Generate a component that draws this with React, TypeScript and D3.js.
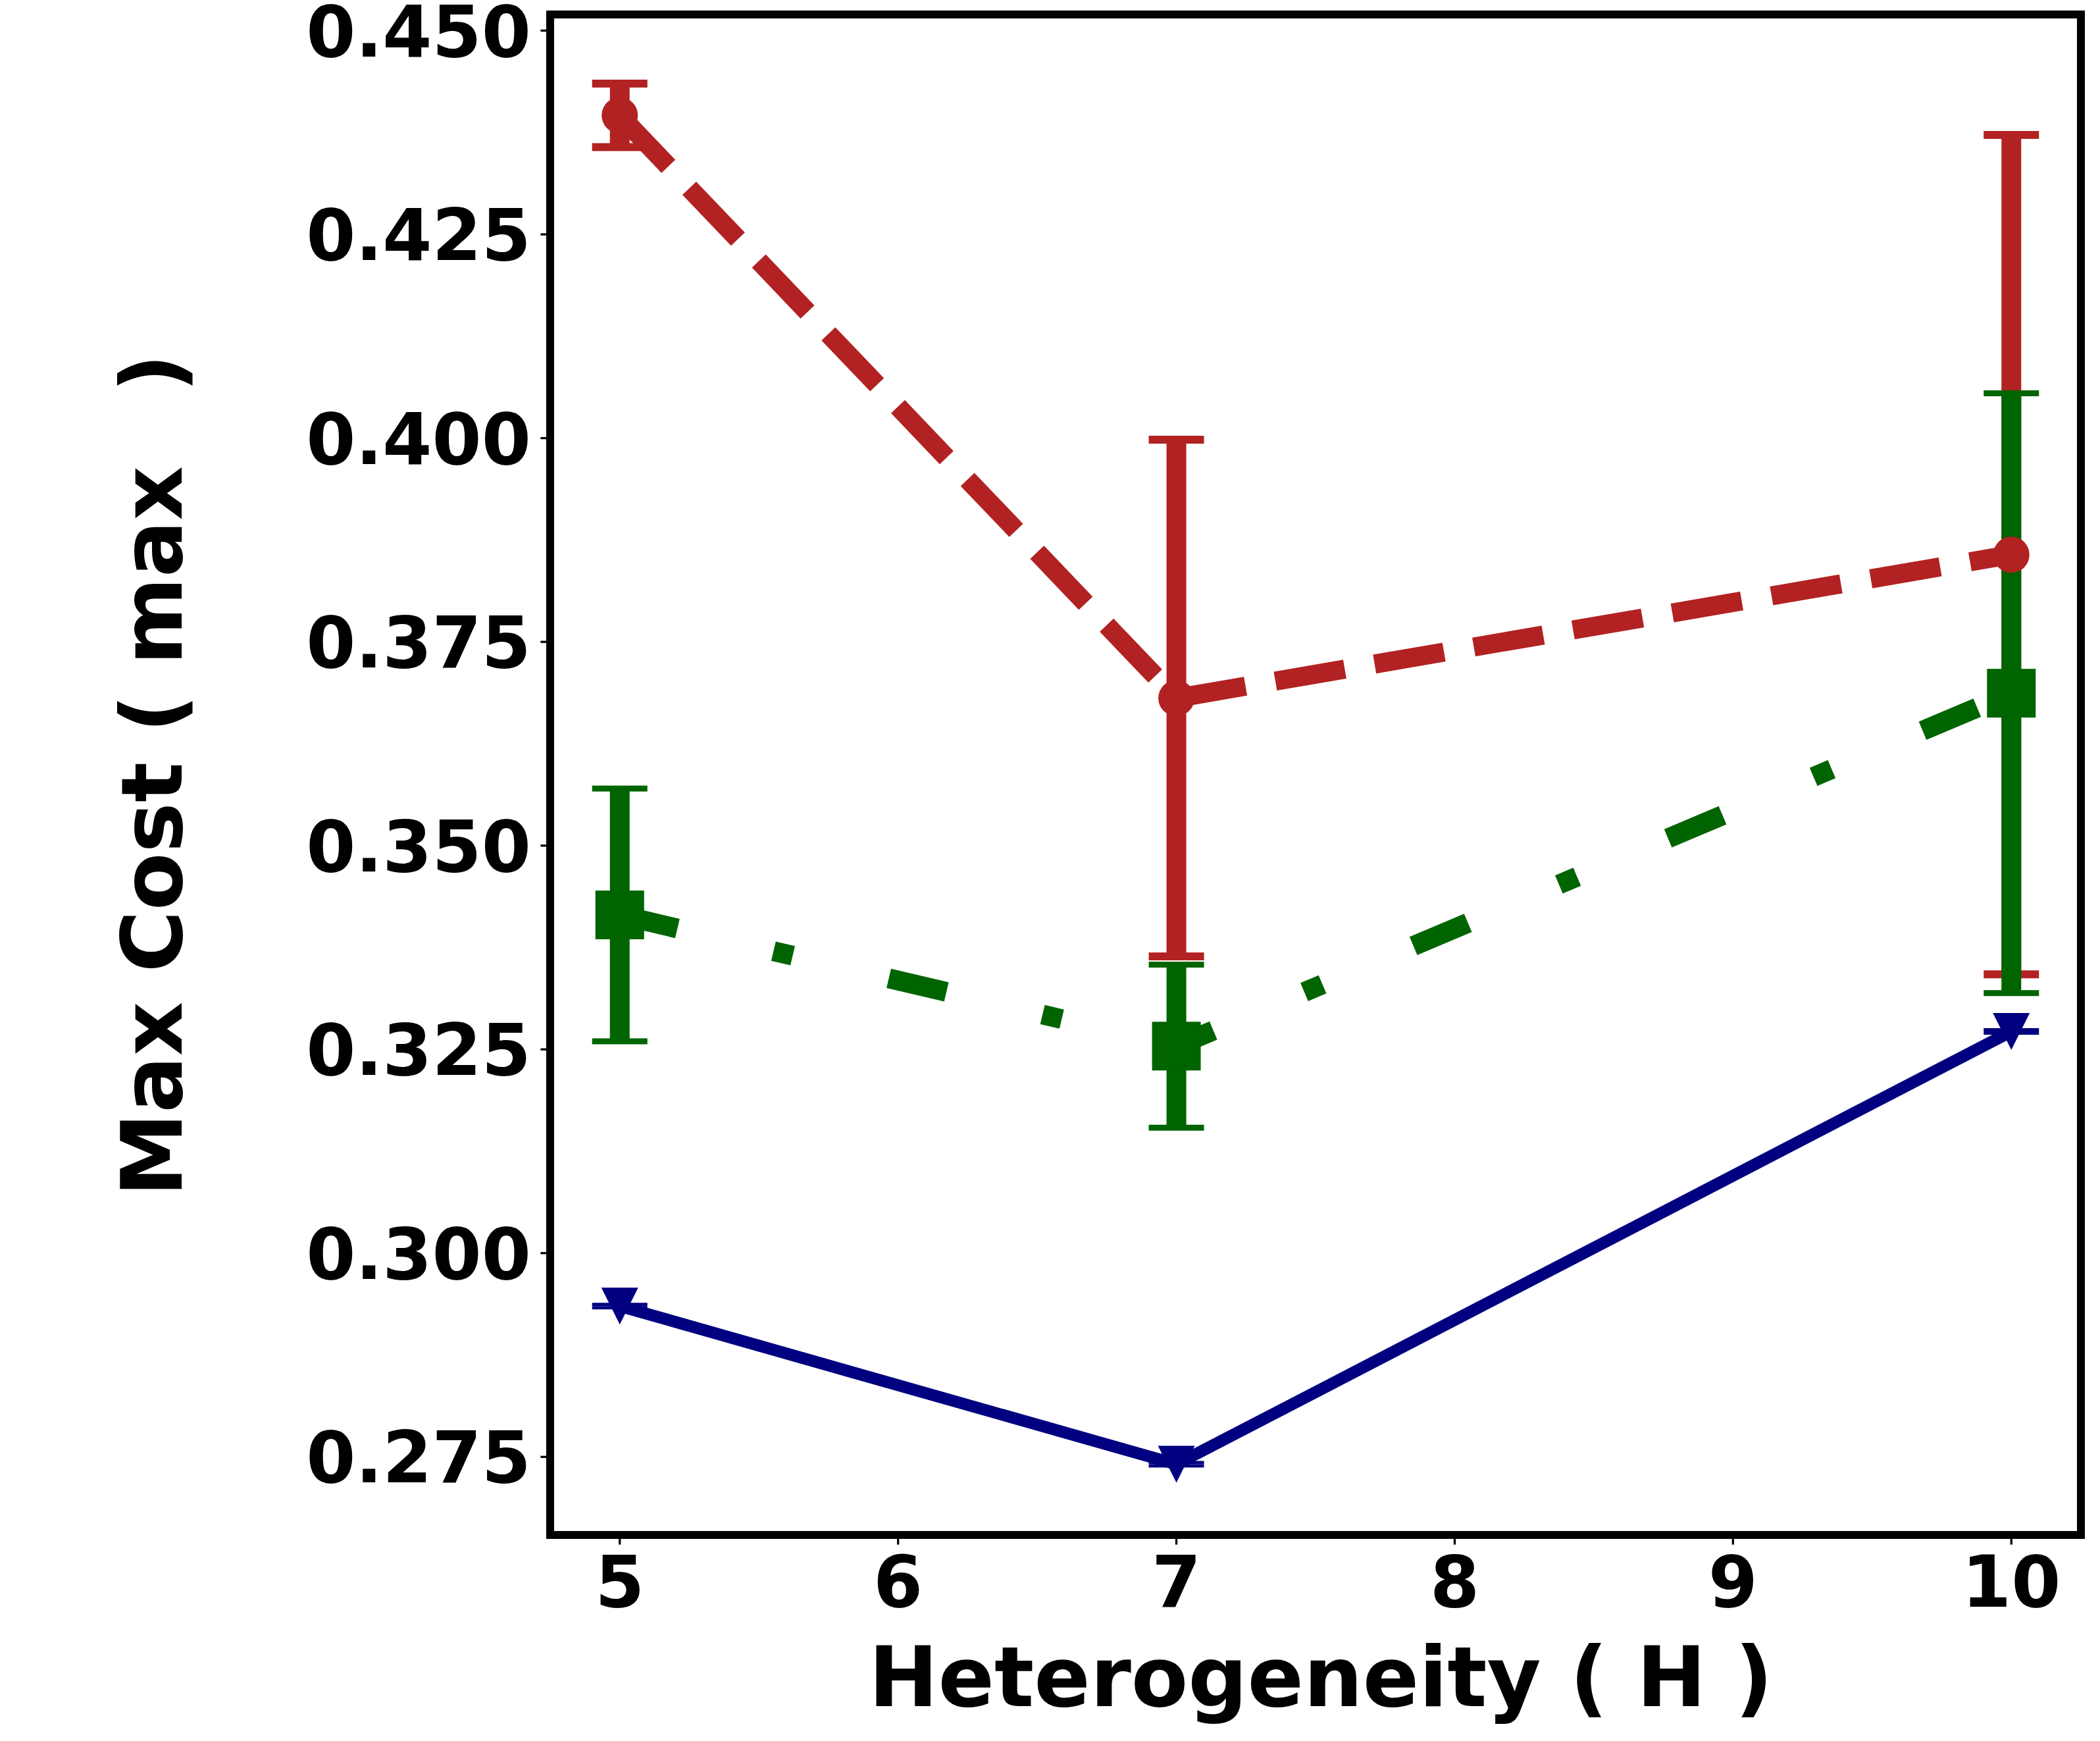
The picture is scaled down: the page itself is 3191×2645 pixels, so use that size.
import React from "react";
import * as d3 from "d3";

// heterogeneity levels on the x axis
const hValues = [5, 7, 10];

// series: mean max cost and error (half width)
const redMean = [0.4396, 0.3681, 0.3857];
const redErr = [0.0039, 0.0317, 0.0515];
const greenMean = [0.3415, 0.3254, 0.3687];
const greenErr = [0.0155, 0.01, 0.0368];
const blueMean = [0.2935, 0.2741, 0.3272];
const blueErr = [0.0002, 0.0002, 0.0002];

const xTicks = [5, 6, 7, 8, 9, 10];
const yTicks = [0.275, 0.3, 0.325, 0.35, 0.375, 0.4, 0.425, 0.45];

const W = 3191;
const H = 2645;
const FONT = "'DejaVu Sans', sans-serif";

const series = [
  { name: "red", color: "#b22222", mean: redMean, err: redErr, lw: 29, dash: "107 46", marker: "circle", ms: 55, capW: 12 },
  { name: "green", color: "#006400", mean: greenMean, err: greenErr, lw: 30, dash: "90 150 30 150", marker: "square", ms: 74, capW: 9 },
  { name: "blue", color: "#000080", mean: blueMean, err: blueErr, lw: 18, dash: "none", marker: "tri", ms: 56, capW: 5 },
];

export default function App() {
  const margin = { left: 836, right: W - 3162, top: 22, bottom: H - 2332 };

  // matplotlib style 5% padding around the data
  const allLo = series.flatMap((s) => s.mean.map((m, i) => m - s.err[i]));
  const allHi = series.flatMap((s) => s.mean.map((m, i) => m + s.err[i]));
  const lo = d3.min(allLo)!;
  const hi = d3.max(allHi)!;
  const pad = (hi - lo) * 0.05;

  const x = d3.scaleLinear().domain([4.75, 10.25]).range([margin.left, W - margin.right]);
  const y = d3.scaleLinear().domain([lo - pad, hi + pad]).range([H - margin.bottom, margin.top]);

  const line = d3
    .line<number>()
    .x((_, i) => x(hValues[i]))
    .y((d) => y(d));

  const capHalf = 42;
  const tickLen = 14.6;
  const tickFs = 108;
  const x0 = margin.left;
  const x1 = W - margin.right;
  const y0 = H - margin.bottom;
  const y1 = margin.top;

  const marker = (s: typeof series[0], cx: number, cy: number, key: string) => {
    const r = s.ms / 2;
    if (s.marker === "circle") return <circle key={key} cx={cx} cy={cy} r={r} fill={s.color} />;
    if (s.marker === "square")
      return <rect key={key} x={cx - r} y={cy - r} width={s.ms} height={s.ms} fill={s.color} />;
    return (
      <path
        key={key}
        d={`M${cx - r},${cy - r}L${cx + r},${cy - r}L${cx},${cy + r}Z`}
        fill={s.color}
      />
    );
  };

  return (
    <div>
      <style>{`body{margin:0}`}</style>
      <svg width={W} height={H} style={{ display: "block", background: "#fff" }}>
        {/* error bars first, then lines and markers on top */}
        {series.map((s) => (
          <g key={s.name + "-err"}>
            {s.mean.map((m, i) => {
              const cx = x(hValues[i]);
              const top = y(m + s.err[i]);
              const bot = y(m - s.err[i]);
              return (
                <g key={i}>
                  <line x1={cx} x2={cx} y1={top} y2={bot} stroke={s.color} strokeWidth={30} />
                  <line x1={cx - capHalf} x2={cx + capHalf} y1={top} y2={top} stroke={s.color} strokeWidth={s.capW} />
                  <line x1={cx - capHalf} x2={cx + capHalf} y1={bot} y2={bot} stroke={s.color} strokeWidth={s.capW} />
                </g>
              );
            })}
          </g>
        ))}
        {series.map((s) => (
          <g key={s.name + "-line"}>
            <path
              d={line(s.mean) || ""}
              fill="none"
              stroke={s.color}
              strokeWidth={s.lw}
              strokeDasharray={s.dash}
              strokeLinecap="butt"
              strokeLinejoin="round"
            />
            {s.mean.map((m, i) => marker(s, x(hValues[i]), y(m), `${s.name}-m${i}`))}
          </g>
        ))}

        {/* ticks */}
        {yTicks.map((t) => (
          <g key={"yt" + t}>
            <line x1={x0} x2={x0 - tickLen} y1={y(t)} y2={y(t)} stroke="#000" strokeWidth={3.3} />
            <text
              x={x0 - tickLen - 14.6}
              y={y(t) + 39}
              textAnchor="end"
              fontFamily={FONT}
              fontWeight="bold"
              fontSize={tickFs}
            >
              {d3.format(".3f")(t)}
            </text>
          </g>
        ))}
        {xTicks.map((t) => (
          <g key={"xt" + t}>
            <line x1={x(t)} x2={x(t)} y1={y0} y2={y0 + tickLen} stroke="#000" strokeWidth={3.3} />
            <text
              x={x(t)}
              y={y0 + tickLen + 14.6 + 80}
              textAnchor="middle"
              fontFamily={FONT}
              fontWeight="bold"
              fontSize={tickFs}
            >
              {t}
            </text>
          </g>
        ))}

        {/* frame */}
        <rect x={x0} y={y1} width={x1 - x0} height={y0 - y1} fill="none" stroke="#000" strokeWidth={12} />

        {/* axis labels */}
        <text
          x={(x0 + x1) / 2 + 8}
          y={2592}
          textAnchor="middle"
          fontFamily={FONT}
          fontWeight="bold"
          fontSize={126}
          style={{ whiteSpace: "pre" }}
        >
          Heterogeneity ( H )
        </text>
        <text
          transform={`translate(276,1818) rotate(-90)`}
          textAnchor="start"
          fontFamily={FONT}
          fontWeight="bold"
          fontSize={128}
          style={{ whiteSpace: "pre" }}
        >
          <tspan>Max Cost ( max</tspan>
          <tspan dx={112}>)</tspan>
        </text>
      </svg>
    </div>
  );
}
